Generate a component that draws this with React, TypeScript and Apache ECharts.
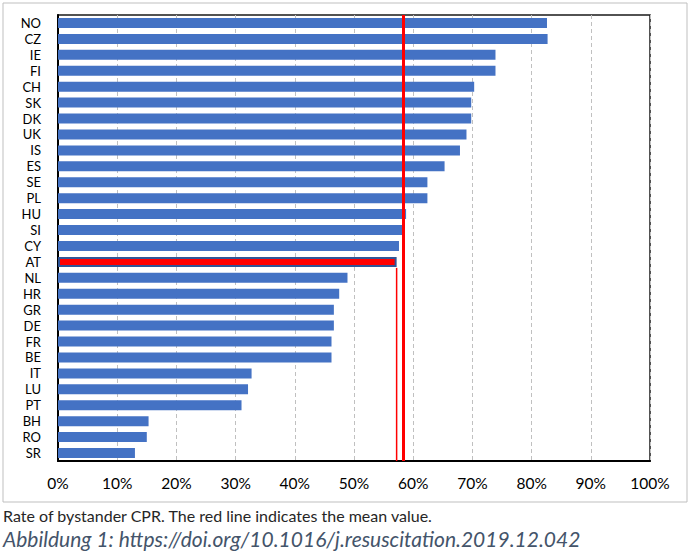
import React, { useEffect, useRef } from "react";
import * as echarts from "echarts";

const categories = ["NO", "CZ", "IE", "FI", "CH", "SK", "DK", "UK", "IS", "ES", "SE", "PL", "HU", "SI", "CY", "AT", "NL", "HR", "GR", "DE", "FR", "BE", "IT", "LU", "PT", "BH", "RO", "SR"];
const values = [82.6, 82.7, 73.9, 73.9, 70.3, 69.8, 69.8, 69.0, 67.9, 65.3, 62.4, 62.4, 58.8, 58.2, 57.6, 57.2, 48.9, 47.5, 46.6, 46.6, 46.2, 46.2, 32.7, 32.1, 31.0, 15.3, 15.0, 13.0];
const highlighted = "AT";
const meanValue = 58.3;
const xTicks = [0, 10, 20, 30, 40, 50, 60, 70, 80, 90, 100];
const caption = "Rate of bystander CPR. The red line indicates the mean value.";
const source = "Abbildung 1: https://doi.org/10.1016/j.resuscitation.2019.12.042";

export default function App() {
  const ref = useRef<HTMLDivElement>(null);
  useEffect(() => {
    document.body.style.margin = "0";
    const chart = echarts.init(ref.current!, null, { renderer: "svg" });
    const hiIdx = categories.indexOf(highlighted);
    const barData = values.map((v, i) =>
      i === hiIdx
        ? { value: v, itemStyle: { color: "#ff0000", borderColor: "#2f5597", borderWidth: 2 } }
        : v
    );
    chart.setOption({
      animation: false,
      backgroundColor: "#ffffff",
      grid: {
        left: 58,
        right: 44,
        top: 15,
        bottom: 97,
        show: true,
        borderColor: "#1a1a1a",
        borderWidth: 1.5,
      },
      xAxis: {
        type: "value",
        min: xTicks[0],
        max: xTicks[xTicks.length - 1],
        interval: 10,
        axisLabel: {
          formatter: "{value}%",
          fontSize: 15.5,
          color: "#000",
          fontFamily: "Lato",
          margin: 14,
        },
        axisLine: { show: true, lineStyle: { color: "#000", width: 2 } },
        axisTick: { show: false },
        splitLine: { show: true, lineStyle: { color: "#c0c0c0", type: [4, 3], width: 1 } },
      },
      yAxis: {
        type: "category",
        data: categories,
        inverse: true,
        axisLabel: {
          interval: 0,
          fontSize: 13,
          lineHeight: 13,
          color: "#000",
          fontFamily: "Lato",
          margin: 17,
        },
        axisLine: { show: true, lineStyle: { color: "#000", width: 2 } },
        axisTick: { show: false },
        splitLine: { show: false },
      },
      series: [
        {
          type: "bar",
          data: barData,
          barWidth: 10,
          itemStyle: { color: "#4472c4" },
          markLine: {
            silent: true,
            symbol: "none",
            label: { show: false },
            lineStyle: { color: "#ff0000", width: 3, type: "solid" },
            data: [{ xAxis: meanValue }],
          },
        },
        {
          type: "custom",
          data: [[values[hiIdx], hiIdx]],
          encode: { x: 0, y: 1 },
          renderItem: (params: any, api: any) => {
            const p = api.coord([api.value(0), api.value(1)]);
            const bottom = params.coordSys.y + params.coordSys.height;
            return {
              type: "line",
              shape: { x1: p[0], y1: p[1] + 6, x2: p[0], y2: bottom },
              style: { stroke: "#ff0000", lineWidth: 1.5 },
            };
          },
          z: 5,
        },
      ],
      graphic: [
        {
          type: "rect",
          shape: { x: 3, y: 3, width: 684, height: 499 },
          style: { fill: "none", stroke: "#bfbfbf", lineWidth: 1 },
          silent: true,
        },
        {
          type: "text",
          left: 3,
          top: 507,
          style: { text: caption, fontSize: 16, fontFamily: "Lato", fill: "#262626" },
        },
        {
          type: "text",
          left: 3,
          top: 528,
          style: {
            text: source,
            fontSize: 21,
            fontStyle: "italic",
            fontFamily: "Lato",
            fill: "#44546a",
          },
        },
      ],
    });
    return () => chart.dispose();
  }, []);
  return <div ref={ref} style={{ position: "fixed", left: 0, top: 0, width: 694, height: 558 }} />;
}
